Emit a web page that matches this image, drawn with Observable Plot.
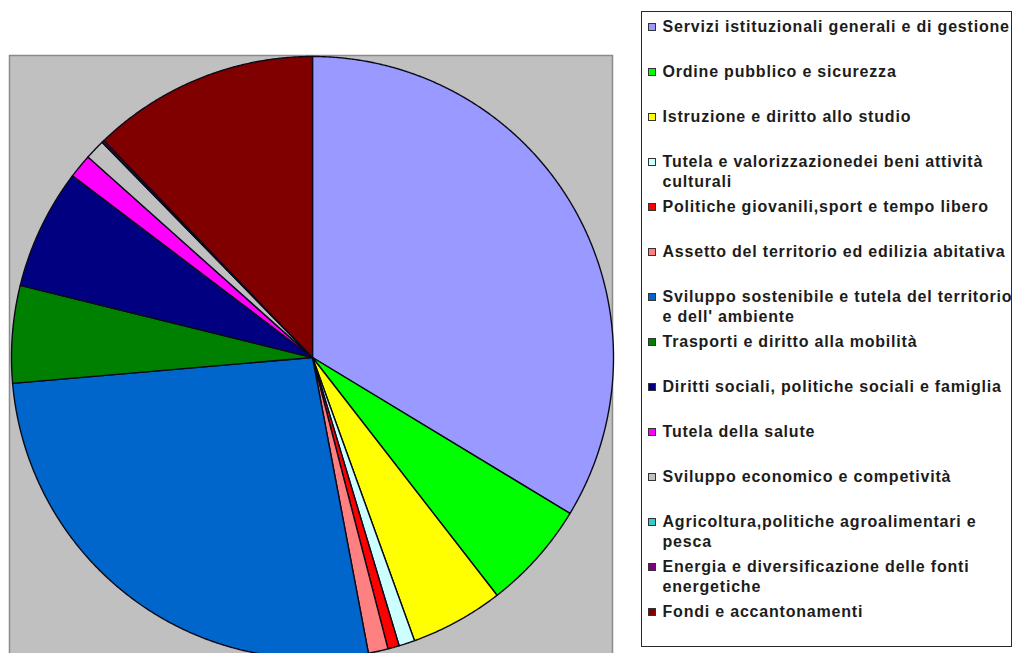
<!DOCTYPE html>
<html>
<head>
<meta charset="utf-8">
<script src="https://cdn.jsdelivr.net/npm/d3@7"></script>
<script src="https://cdn.jsdelivr.net/npm/@observablehq/plot@0.6"></script>
<style>
  html, body { margin: 0; padding: 0; background: #fff; overflow: hidden; }
  #wrap { position: relative; width: 1015px; height: 653px; font-family: "Liberation Sans", Arial, sans-serif; }
  #chart { position: absolute; left: 0; top: 0; }
  #legend { position: absolute; left: 641px; top: 11px; width: 369px; height: 634px; border: 1.5px solid #2a2a2a; background: #fff; }
  .sw { position: absolute; width: 8px; height: 8px; box-sizing: border-box; border: 1px solid #333; }
  .lab { position: absolute; white-space: pre; font-size: 16px; font-weight: bold; line-height: 20px; letter-spacing: 0.8px; color: #1c1c1c; }
</style>
</head>
<body>
<div id="wrap">
  <div id="chart"></div>
  <div id="legend"></div>
</div>
<script>
// ---- data ----
const categories = [
  "Servizi istituzionali generali e di gestione",
  "Ordine pubblico e sicurezza",
  "Istruzione e diritto allo studio",
  "Tutela e valorizzazionedei beni attività\nculturali",
  "Politiche giovanili,sport e tempo libero",
  "Assetto del territorio ed edilizia abitativa",
  "Sviluppo sostenibile e tutela del territorio\ne dell' ambiente",
  "Trasporti e diritto alla mobilità",
  "Diritti sociali, politiche sociali e famiglia",
  "Tutela della salute",
  "Sviluppo economico e competività",
  "Agricoltura,politiche agroalimentari e\npesca",
  "Energia e diversificazione delle fonti\nenergetiche",
  "Fondi e accantonamenti"
];
const shares = [33.67, 5.83, 5.0, 0.86, 0.61, 1.06, 26.61, 5.22, 6.47, 1.28, 1.08, 0.02, 0.11, 12.19];
const colors = ["#9999FF", "#00FF00", "#FFFF00", "#CCFFFF", "#FF0000", "#FF8080", "#0066CC", "#008000", "#000080", "#FF00FF", "#C0C0C0", "#33CCCC", "#800080", "#800000"];

// ---- pie geometry via d3.pie (angles clockwise from 12 o'clock) ----
const arcs = d3.pie().sort(null).value(d => d)(shares);
const pts = [];
arcs.forEach((a, i) => {
  const name = categories[i];
  pts.push({name, x: 0, y: 0});
  const n = Math.max(2, Math.ceil((a.endAngle - a.startAngle) / (Math.PI / 720)));
  for (let k = 0; k <= n; k++) {
    const t = a.startAngle + (a.endAngle - a.startAngle) * k / n;
    pts.push({name, x: Math.sin(t), y: Math.cos(t)});
  }
});

const plot = Plot.plot({
  width: 1015,
  height: 653,
  marginLeft: 9,
  marginTop: 55,
  marginRight: 403,
  marginBottom: -4,
  x: {domain: [-1, 1], range: [11, 613], axis: null},
  y: {domain: [-1, 1], range: [658, 56], axis: null},
  color: {domain: categories, range: colors},
  style: {background: "transparent", overflow: "hidden"},
  marks: [
    Plot.frame({fill: "#C0C0C0", stroke: "#8a8a8a", strokeWidth: 1.5}),
    Plot.line(pts, {x: "x", y: "y", z: "name", fill: "name", stroke: "#0a0a1a", strokeWidth: 1.4, strokeLinejoin: "round", curve: "linear-closed"})
  ]
});
document.getElementById("chart").appendChild(plot);

// ---- legend ----
const legend = document.getElementById("legend");
categories.forEach((c, i) => {
  const sw = document.createElement("div");
  sw.className = "sw";
  sw.style.left = "5.5px";
  sw.style.top = (10.5 + 45 * i) + "px";
  sw.style.background = colors[i];
  legend.appendChild(sw);
  const lab = document.createElement("div");
  lab.className = "lab";
  lab.style.left = "20.5px";
  lab.style.top = (4.5 + 45 * i) + "px";
  lab.textContent = c;
  legend.appendChild(lab);
});
</script>
</body>
</html>
